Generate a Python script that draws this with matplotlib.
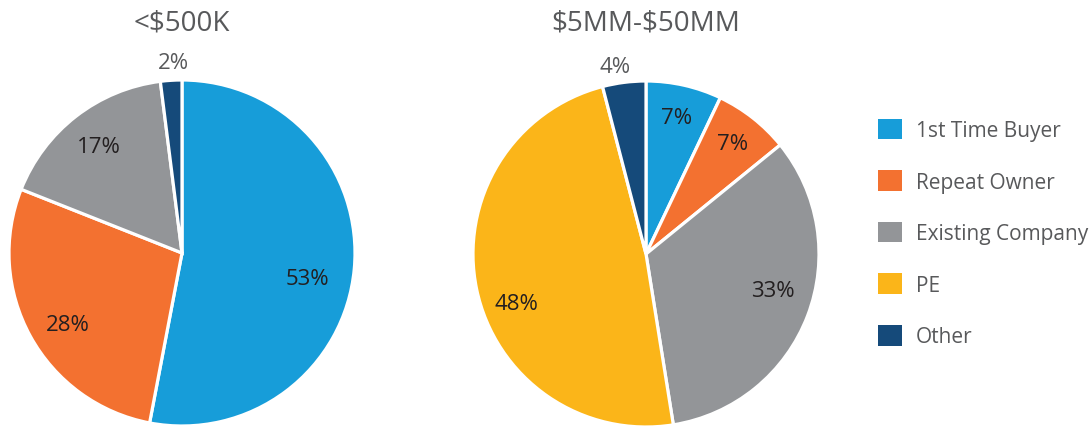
import numpy as np
import matplotlib
matplotlib.use("Agg")
import matplotlib.pyplot as plt
from matplotlib.patches import Patch

plt.rcParams['font.family'] = ['Open Sans', 'DejaVu Sans']

# Data
categories = ["1st Time Buyer", "Repeat Owner", "Existing Company", "PE", "Other"]
colors = ["#179dd9", "#f37130", "#939598", "#fbb519", "#154a7a"]

left_title = "<\\$500K"
left_values = [53, 28, 17, 0, 2]
left_label_dist = [0.74, 0.78, 0.78, 0.78, 1.10]
left_label_shift = [-6, 3, 0, 0, -1]  # degrees, nudges label off the wedge middle

right_title = "\\$5MM-\\$50MM"
right_values = [7, 7, 33, 48, 4]
right_label_dist = [0.81, 0.81, 0.76, 0.80, 1.10]
right_label_shift = [0, 0, 5, 9, 2]

W, H = 1092, 427
fig = plt.figure(figsize=(W / 100, H / 100), dpi=100)


def draw_pie(cx, cy, r, values, dists, shifts, title):
    ax = fig.add_axes([(cx - r) / W, (H - cy - r) / H, 2 * r / W, 2 * r / H])
    keep = [i for i, v in enumerate(values) if v > 0]
    vals = [values[i] for i in keep]
    wedges, _ = ax.pie(vals, colors=[colors[i] for i in keep], startangle=90,
                       counterclock=False,
                       wedgeprops=dict(edgecolor="white", linewidth=2.3))
    for w, i in zip(wedges, keep):
        d = dists[i]
        ang = np.deg2rad((w.theta1 + w.theta2) / 2 + shifts[i])
        outside = d > 1
        ax.text(d * np.cos(ang), d * np.sin(ang), f"{values[i]}%", ha="center",
                va="center", fontsize=16,
                color="#58595b" if outside else "#231f20")
    ax.set_xlim(-1, 1)
    ax.set_ylim(-1, 1)
    ax.set_aspect("equal")
    ax.axis("off")
    fig.text(cx / W, (H - 23) / H, title, ha="center", va="center",
             fontsize=20, color="#58595b")


draw_pie(182, 254, 173, left_values, left_label_dist, left_label_shift, left_title)
draw_pie(646, 255, 173, right_values, right_label_dist, right_label_shift, right_title)

handles = [Patch(facecolor=c, edgecolor="none") for c in colors]
fig.legend(handles, categories, loc="center left",
           bbox_to_anchor=(878 / W, (H - 234) / H), frameon=False,
           fontsize=15, labelcolor="#58595b", handlelength=1.15, handleheight=1.15,
           handletextpad=0.65, labelspacing=1.4, borderpad=0, borderaxespad=0)

fig.savefig("out.png", dpi=100)
